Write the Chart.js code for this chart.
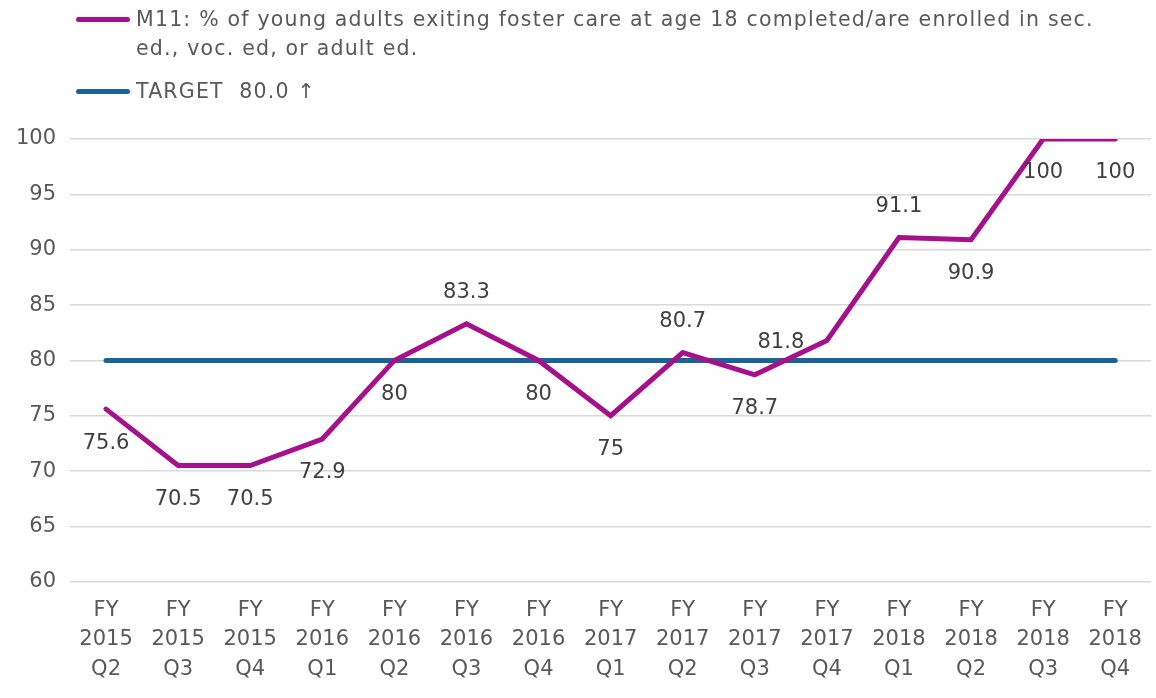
<!DOCTYPE html>
<html>
<head>
<meta charset="utf-8">
<script src="https://cdn.jsdelivr.net/npm/chart.js@4/dist/chart.umd.min.js"></script>
<style>
  html, body { margin:0; padding:0; background:#fff; }
  #wrap { position:relative; width:1156px; height:698px; font-family:"DejaVu Sans", sans-serif; color:#595959; }
  canvas { position:absolute; left:0; top:0; }
  .leg { position:absolute; left:76px; font-size:20.5px; line-height:29px; }
  .leg .sw { position:absolute; left:0; top:12px; width:54px; height:5px; border-radius:3px; }
  .leg .tx { position:absolute; left:60px; top:0; width:1000px; white-space:pre-wrap; letter-spacing:1.2px; }
</style>
</head>
<body>
<div id="wrap">
  <canvas id="c" width="1156" height="698"></canvas>
  <div class="leg" id="leg1" style="top:5px;"><div class="sw" style="background:#A5118A"></div><div class="tx" id="t1"></div></div>
  <div class="leg" id="leg2" style="top:77px;"><div class="sw" style="background:#1B6395"></div><div class="tx" id="t2"></div></div>
</div>
<script>
const categories = [
  ["FY","2015","Q2"],["FY","2015","Q3"],["FY","2015","Q4"],
  ["FY","2016","Q1"],["FY","2016","Q2"],["FY","2016","Q3"],["FY","2016","Q4"],
  ["FY","2017","Q1"],["FY","2017","Q2"],["FY","2017","Q3"],["FY","2017","Q4"],
  ["FY","2018","Q1"],["FY","2018","Q2"],["FY","2018","Q3"],["FY","2018","Q4"]
];
const m11Values = [75.6, 70.5, 70.5, 72.9, 80, 83.3, 80, 75, 80.7, 78.7, 81.8, 91.1, 90.9, 100, 100];
const targetValues = [80, 80, 80, 80, 80, 80, 80, 80, 80, 80, 80, 80, 80, 80, 80];
const m11Label = "M11: % of young adults exiting foster care at age 18 completed/are enrolled in sec. ed., voc. ed, or adult ed.";
const targetLabel = "TARGET  80.0 \u2191";
const yTicks = [60, 65, 70, 75, 80, 85, 90, 95, 100];

document.getElementById('t1').textContent = m11Label;
document.getElementById('t2').textContent = targetLabel;

const labelPlacement = ['below','below','below','below','below','above','below','below','above','below','left','above','below','below','below'];

const dataLabelPlugin = {
  id: 'dataLabels',
  afterDatasetsDraw(chart) {
    const ctx = chart.ctx;
    const meta = chart.getDatasetMeta(0);
    ctx.save();
    ctx.font = '21px "DejaVu Sans", sans-serif';
    ctx.fillStyle = '#404040';
    ctx.textAlign = 'center';
    ctx.textBaseline = 'middle';
    meta.data.forEach((pt, i) => {
      let x = pt.x, y = pt.y;
      const p = labelPlacement[i];
      if (p === 'below') y += 34;
      else if (p === 'above') y -= 31;
      else if (p === 'left') { x -= 46; y += 2; }
      ctx.fillText(String(m11Values[i]), x, y);
    });
    ctx.restore();
  }
};

new Chart(document.getElementById('c'), {
  type: 'line',
  data: {
    labels: categories,
    datasets: [
      { label: m11Label, data: m11Values, borderColor: '#A5118A', borderWidth: 5, pointRadius: 0, tension: 0, borderCapStyle: 'round', borderJoinStyle: 'miter', order: 0 },
      { label: targetLabel, data: targetValues, borderColor: '#1B6395', borderWidth: 5, pointRadius: 0, tension: 0, borderCapStyle: 'round', order: 1 }
    ]
  },
  options: {
    responsive: false,
    animation: false,
    devicePixelRatio: 1,
    layout: { padding: { top: 139, right: 2, left: 0, bottom: 0 } },
    plugins: { legend: { display: false }, tooltip: { enabled: false } },
    scales: {
      x: {
        offset: true,
        grid: { display: false, drawTicks: false },
        border: { display: false },
        ticks: { color: '#595959', font: { family: 'DejaVu Sans', size: 21, lineHeight: 1.4 }, padding: 14, maxRotation: 0, autoSkip: false },
      },
      y: {
        min: 60, max: 100,
        afterFit(scale) { scale.width = 70; },
        afterBuildTicks(scale) { scale.ticks = yTicks.map(v => ({ value: v })); },
        grid: { color: '#D9D9D9', lineWidth: 1.5, drawTicks: false },
        border: { display: false },
        ticks: { color: '#595959', font: { family: 'DejaVu Sans', size: 21 }, padding: 14, stepSize: 5 }
      }
    }
  },
  plugins: [dataLabelPlugin]
});
</script>
</body>
</html>
